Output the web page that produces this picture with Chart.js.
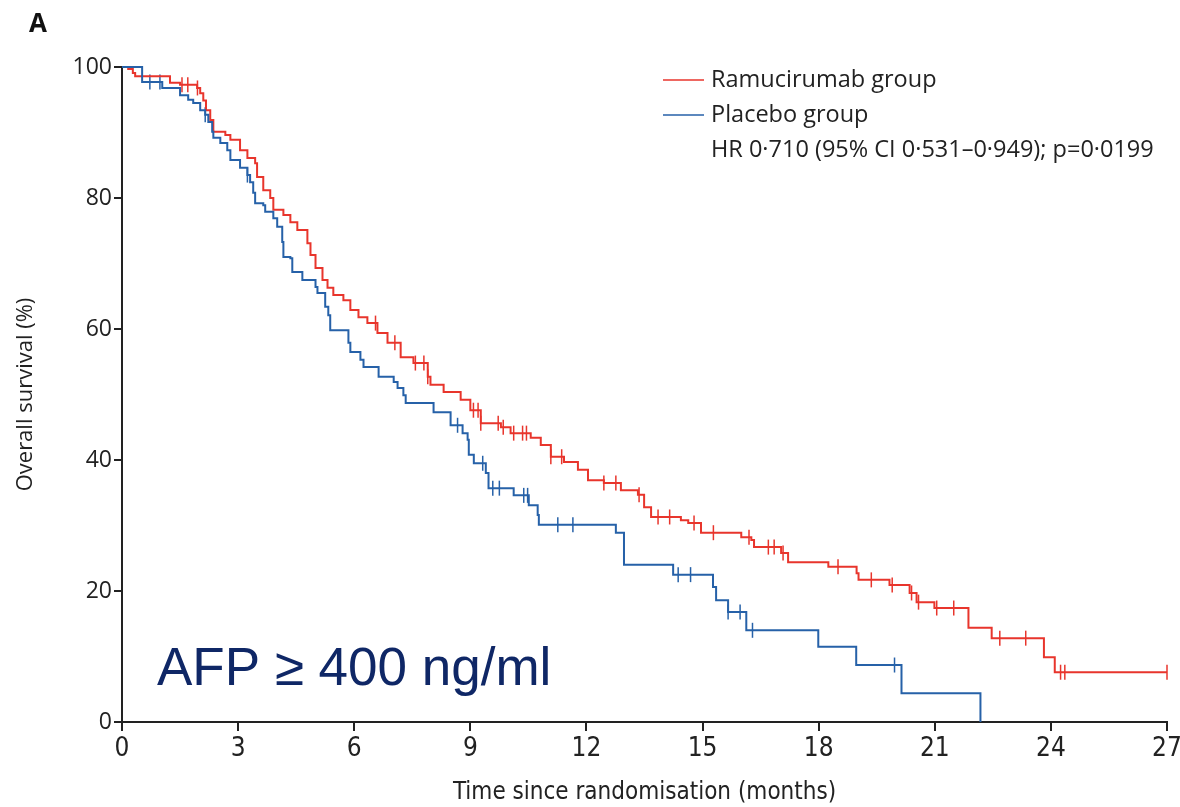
<!DOCTYPE html>
<html>
<head>
<meta charset="utf-8">
<script src="https://cdn.jsdelivr.net/npm/chart.js@4.4.0/dist/chart.umd.min.js"></script>
<style>
  html, body { margin: 0; padding: 0; background: #fff; }
  canvas { display: block; }
</style>
</head>
<body>
<canvas id="km-chart" width="1180" height="807"></canvas>
<script>
// Kaplan-Meier steps (months, % surviving after the drop)
var ramTime = [0, 0.16, 0.28, 0.34, 1.24, 1.5, 1.94, 2.02, 2.1, 2.17, 2.28, 2.36, 2.67, 2.8, 3.05, 3.24, 3.44, 3.49, 3.65, 3.83, 3.91, 4.17, 4.35, 4.53, 4.79, 4.87, 5.0, 5.18, 5.31, 5.46, 5.72, 5.9, 6.11, 6.34, 6.6, 6.86, 7.2, 7.53, 7.9, 7.97, 8.31, 8.75, 9.0, 9.27, 9.79, 10.04, 10.56, 10.82, 11.08, 11.42, 11.78, 12.04, 12.45, 12.89, 13.33, 13.49, 13.67, 14.44, 14.63, 14.96, 16.0, 16.26, 16.33, 17.03, 17.21, 18.25, 18.98, 19.03, 19.83, 20.35, 20.53, 20.99, 21.87, 22.47, 23.82, 24.1, 27];
var ramSurv = [100, 99.7, 99.1, 98.6, 97.6, 97.3, 96.8, 96.0, 94.9, 93.4, 91.9, 90.1, 89.6, 88.9, 87.3, 86.1, 85.3, 83.2, 81.2, 80.0, 78.2, 77.4, 76.3, 75.1, 73.1, 71.3, 69.3, 67.5, 66.3, 65.2, 64.4, 62.9, 61.8, 60.9, 59.4, 57.9, 55.7, 54.8, 52.7, 51.5, 50.4, 49.2, 47.6, 45.6, 45.0, 44.1, 43.4, 42.3, 40.5, 39.7, 38.5, 36.9, 36.5, 35.4, 34.7, 32.8, 31.3, 30.8, 30.4, 28.9, 28.2, 27.8, 26.7, 25.8, 24.4, 23.7, 22.7, 21.7, 20.9, 19.7, 18.3, 17.4, 14.4, 12.8, 9.9, 7.6, 7.6];
var ramCensor = [1.55, 1.7, 1.95, 6.55, 7.05, 7.58, 7.8, 7.9, 9.08, 9.2, 9.27, 9.72, 9.85, 10.12, 10.35, 10.45, 11.08, 11.36, 12.45, 12.76, 13.36, 13.85, 14.15, 14.78, 15.28, 16.2, 16.7, 16.85, 17.08, 18.5, 19.36, 19.9, 20.4, 20.58, 21.05, 21.49, 22.68, 23.35, 24.25, 24.36, 27.0];

var plaTime = [0, 0.52, 1.04, 1.5, 1.71, 1.84, 2.02, 2.15, 2.23, 2.33, 2.36, 2.54, 2.72, 2.8, 3.05, 3.24, 3.31, 3.39, 3.44, 3.65, 3.7, 3.91, 4.01, 4.14, 4.17, 4.35, 4.4, 4.66, 5.0, 5.05, 5.25, 5.33, 5.38, 5.85, 5.9, 6.16, 6.24, 6.63, 7.02, 7.12, 7.27, 7.33, 8.05, 8.49, 8.8, 8.93, 8.96, 9.09, 9.4, 9.47, 10.12, 10.51, 10.74, 10.77, 12.76, 12.97, 14.24, 15.27, 15.35, 15.66, 16.13, 17.99, 18.97, 20.14, 22.18];
var plaSurv = [100, 97.7, 96.8, 95.7, 95.0, 94.5, 93.4, 92.7, 91.6, 90.1, 89.2, 88.4, 87.3, 85.8, 84.6, 83.5, 82.4, 80.8, 79.2, 78.9, 77.9, 76.9, 75.6, 73.3, 71.0, 70.8, 68.7, 67.5, 66.4, 65.5, 63.4, 62.1, 59.8, 57.9, 56.5, 55.3, 54.2, 52.7, 51.9, 51.0, 49.9, 48.7, 47.3, 45.3, 44.1, 43.1, 40.8, 39.5, 38.0, 35.7, 34.6, 33.1, 31.6, 30.1, 28.9, 24.0, 22.5, 20.6, 18.6, 16.8, 14.0, 11.5, 8.7, 4.4, 0];
var plaCensor = [0.72, 0.98, 2.15, 3.24, 8.67, 9.32, 9.58, 9.75, 10.38, 10.48, 11.26, 11.65, 14.37, 14.69, 15.66, 15.97, 16.29, 19.96];

var xTicks = [0, 3, 6, 9, 12, 15, 18, 21, 24, 27];
var yTicks = [0, 20, 40, 60, 80, 100];

var RED = '#e8352c';
var BLUE = '#2661a8';

function steps(times, surv) {
  return times.map(function(t, i) { return { x: t, y: surv[i] }; });
}

// survival level at time t, so censor ticks sit on the curve
function survAt(times, surv, t) {
  var s = surv[0];
  for (var i = 0; i < times.length; i++) {
    if (times[i] <= t) s = surv[i];
  }
  return s;
}

function censors(list, times, surv) {
  return list.map(function(t) { return { x: t, y: survAt(times, surv, t) }; });
}

var annotations = {
  id: 'annotations',
  afterDraw: function(chart) {
    var ctx = chart.ctx;
    ctx.save();
    ctx.fillStyle = '#111';
    ctx.font = 'bold 26px "Open Sans", sans-serif';
    ctx.textBaseline = 'alphabetic';
    ctx.fillText('A', 29, 32);

    ctx.lineWidth = 1.5;
    ctx.strokeStyle = RED;
    ctx.beginPath(); ctx.moveTo(663, 80); ctx.lineTo(704, 80); ctx.stroke();
    ctx.strokeStyle = BLUE;
    ctx.beginPath(); ctx.moveTo(663, 115); ctx.lineTo(704, 115); ctx.stroke();

    ctx.fillStyle = '#222';
    ctx.font = '23.5px "Open Sans", sans-serif';
    ctx.textBaseline = 'middle';
    ctx.fillText('Ramucirumab group', 711, 80);
    ctx.fillText('Placebo group', 711, 115);
    ctx.fillText('HR 0·710 (95% CI 0·531–0·949); p=0·0199', 711, 150);

    ctx.fillStyle = '#0f2766';
    ctx.font = '53px "Liberation Sans", Arial, sans-serif';
    ctx.textBaseline = 'alphabetic';
    ctx.fillText('AFP ≥ 400 ng/ml', 157, 685);
    ctx.restore();
  }
};

var chart = new Chart(document.getElementById('km-chart'), {
  type: 'scatter',
  data: {
    datasets: [{
      label: 'Placebo group',
      data: steps(plaTime, plaSurv),
      showLine: true,
      stepped: true,
      borderColor: BLUE,
      borderWidth: 2,
      pointRadius: 0,
      clip: false
    }, {
      label: 'Ramucirumab group',
      data: steps(ramTime, ramSurv),
      showLine: true,
      stepped: true,
      borderColor: RED,
      borderWidth: 2,
      pointRadius: 0,
      clip: false
    }, {
      label: 'Placebo censored',
      data: censors(plaCensor, plaTime, plaSurv),
      showLine: false,
      pointStyle: 'line',
      rotation: 90,
      pointRadius: 7.5,
      borderColor: BLUE,
      backgroundColor: BLUE,
      pointBorderWidth: 1.5,
      clip: false
    }, {
      label: 'Ramucirumab censored',
      data: censors(ramCensor, ramTime, ramSurv),
      showLine: false,
      pointStyle: 'line',
      rotation: 90,
      pointRadius: 7.5,
      borderColor: RED,
      backgroundColor: RED,
      pointBorderWidth: 1.5,
      clip: false
    }]
  },
  options: {
    responsive: false,
    animation: false,
    devicePixelRatio: 1,
    layout: {
      padding: { left: 0, right: 13, top: 67, bottom: 0 }
    },
    plugins: {
      legend: { display: false },
      tooltip: { enabled: false }
    },
    scales: {
      x: {
        type: 'linear',
        min: 0,
        max: 27,
        afterFit: function(scale) {
          scale.height = 85;
          scale.paddingLeft = 0;
          scale.paddingRight = 0;
        },
        afterBuildTicks: function(scale) {
          scale.ticks = xTicks.map(function(v) { return { value: v }; });
        },
        border: { display: true, color: '#222', width: 2 },
        grid: { drawOnChartArea: false, drawTicks: true, tickLength: 9, color: '#222', lineWidth: 2 },
        ticks: {
          color: '#222',
          padding: 3,
          font: { family: '"Liberation Sans Narrow", "DejaVu Sans Condensed", sans-serif', size: 26 }
        },
        title: {
          display: true,
          text: 'Time since randomisation (months)',
          color: '#222',
          padding: { top: 0, bottom: 0 },
          font: { family: '"Liberation Sans Narrow", "DejaVu Sans Condensed", sans-serif', size: 24 }
        }
      },
      y: {
        min: 0,
        max: 100,
        afterFit: function(scale) {
          scale.width = 122;
          scale.paddingTop = 0;
          scale.paddingBottom = 0;
        },
        afterBuildTicks: function(scale) {
          scale.ticks = yTicks.map(function(v) { return { value: v }; });
        },
        border: { display: true, color: '#222', width: 2 },
        grid: { drawOnChartArea: false, drawTicks: true, tickLength: 8, color: '#222', lineWidth: 2 },
        ticks: {
          color: '#222',
          padding: 2,
          font: { family: '"Open Sans", sans-serif', size: 23 }
        },
        title: {
          display: true,
          text: 'Overall survival (%)',
          color: '#222',
          padding: { top: 13, bottom: 0 },
          font: { family: '"Open Sans", sans-serif', size: 22 }
        }
      }
    }
  },
  plugins: [annotations]
});
</script>
</body>
</html>
